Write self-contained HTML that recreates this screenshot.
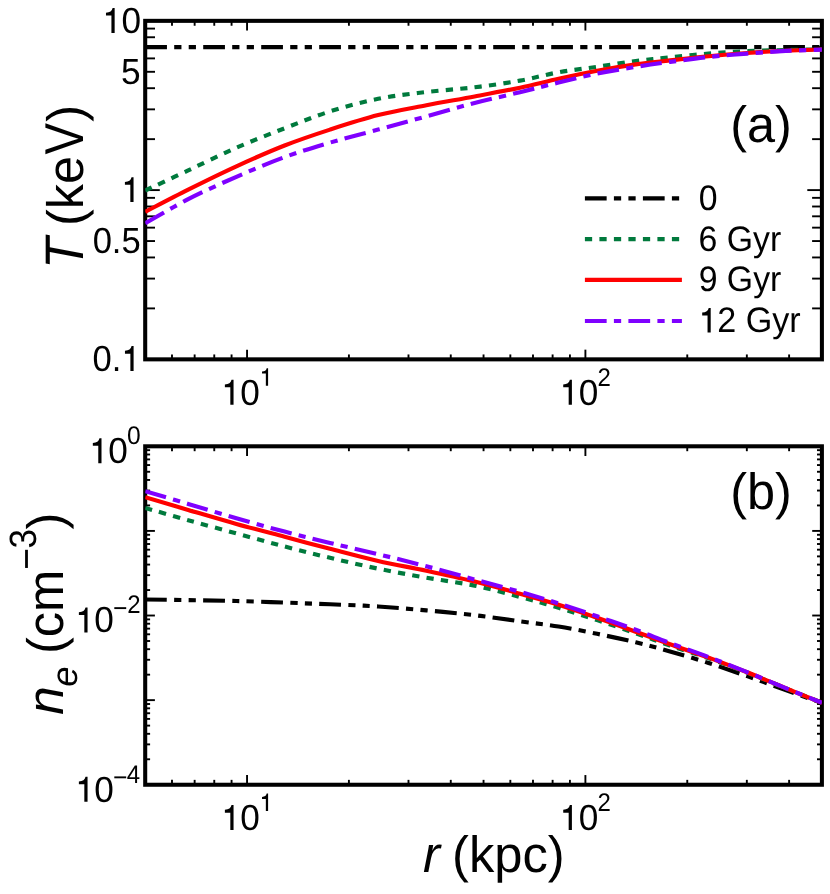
<!DOCTYPE html>
<html><head><meta charset="utf-8"><title>T and n_e profiles</title>
<style>html,body{margin:0;padding:0;background:#fff;}svg{display:block;}body{width:830px;height:894px;overflow:hidden;font-family:"Liberation Sans", sans-serif;}</style></head>
<body>
<svg width="830" height="894" viewBox="0 0 830 894" font-family='"Liberation Sans", sans-serif' fill="#000" text-rendering="geometricPrecision">
<rect x="0" y="0" width="830" height="894" fill="#fff"/>
<defs>
<clipPath id="ca"><rect x="145.2" y="20.85" width="676.70" height="338.50"/></clipPath>
<clipPath id="cb"><rect x="145.2" y="446.3" width="676.70" height="338.45"/></clipPath>
</defs>
<g id="ticks">
<line x1="171.99" y1="20.85" x2="171.99" y2="25.75" stroke="#000" stroke-width="1.9" />
<line x1="171.99" y1="359.35" x2="171.99" y2="354.45" stroke="#000" stroke-width="1.9" />
<line x1="194.64" y1="20.85" x2="194.64" y2="25.75" stroke="#000" stroke-width="1.9" />
<line x1="194.64" y1="359.35" x2="194.64" y2="354.45" stroke="#000" stroke-width="1.9" />
<line x1="214.26" y1="20.85" x2="214.26" y2="25.75" stroke="#000" stroke-width="1.9" />
<line x1="214.26" y1="359.35" x2="214.26" y2="354.45" stroke="#000" stroke-width="1.9" />
<line x1="231.57" y1="20.85" x2="231.57" y2="25.75" stroke="#000" stroke-width="1.9" />
<line x1="231.57" y1="359.35" x2="231.57" y2="354.45" stroke="#000" stroke-width="1.9" />
<line x1="247.05" y1="20.85" x2="247.05" y2="30.55" stroke="#000" stroke-width="1.9" />
<line x1="247.05" y1="359.35" x2="247.05" y2="349.65" stroke="#000" stroke-width="1.9" />
<line x1="348.91" y1="20.85" x2="348.91" y2="25.75" stroke="#000" stroke-width="1.9" />
<line x1="348.91" y1="359.35" x2="348.91" y2="354.45" stroke="#000" stroke-width="1.9" />
<line x1="408.49" y1="20.85" x2="408.49" y2="25.75" stroke="#000" stroke-width="1.9" />
<line x1="408.49" y1="359.35" x2="408.49" y2="354.45" stroke="#000" stroke-width="1.9" />
<line x1="450.76" y1="20.85" x2="450.76" y2="25.75" stroke="#000" stroke-width="1.9" />
<line x1="450.76" y1="359.35" x2="450.76" y2="354.45" stroke="#000" stroke-width="1.9" />
<line x1="483.55" y1="20.85" x2="483.55" y2="25.75" stroke="#000" stroke-width="1.9" />
<line x1="483.55" y1="359.35" x2="483.55" y2="354.45" stroke="#000" stroke-width="1.9" />
<line x1="510.34" y1="20.85" x2="510.34" y2="25.75" stroke="#000" stroke-width="1.9" />
<line x1="510.34" y1="359.35" x2="510.34" y2="354.45" stroke="#000" stroke-width="1.9" />
<line x1="532.99" y1="20.85" x2="532.99" y2="25.75" stroke="#000" stroke-width="1.9" />
<line x1="532.99" y1="359.35" x2="532.99" y2="354.45" stroke="#000" stroke-width="1.9" />
<line x1="552.61" y1="20.85" x2="552.61" y2="25.75" stroke="#000" stroke-width="1.9" />
<line x1="552.61" y1="359.35" x2="552.61" y2="354.45" stroke="#000" stroke-width="1.9" />
<line x1="569.92" y1="20.85" x2="569.92" y2="25.75" stroke="#000" stroke-width="1.9" />
<line x1="569.92" y1="359.35" x2="569.92" y2="354.45" stroke="#000" stroke-width="1.9" />
<line x1="585.40" y1="20.85" x2="585.40" y2="30.55" stroke="#000" stroke-width="1.9" />
<line x1="585.40" y1="359.35" x2="585.40" y2="349.65" stroke="#000" stroke-width="1.9" />
<line x1="687.26" y1="20.85" x2="687.26" y2="25.75" stroke="#000" stroke-width="1.9" />
<line x1="687.26" y1="359.35" x2="687.26" y2="354.45" stroke="#000" stroke-width="1.9" />
<line x1="746.84" y1="20.85" x2="746.84" y2="25.75" stroke="#000" stroke-width="1.9" />
<line x1="746.84" y1="359.35" x2="746.84" y2="354.45" stroke="#000" stroke-width="1.9" />
<line x1="789.11" y1="20.85" x2="789.11" y2="25.75" stroke="#000" stroke-width="1.9" />
<line x1="789.11" y1="359.35" x2="789.11" y2="354.45" stroke="#000" stroke-width="1.9" />
<line x1="171.99" y1="446.30" x2="171.99" y2="451.20" stroke="#000" stroke-width="1.9" />
<line x1="171.99" y1="784.75" x2="171.99" y2="779.85" stroke="#000" stroke-width="1.9" />
<line x1="194.64" y1="446.30" x2="194.64" y2="451.20" stroke="#000" stroke-width="1.9" />
<line x1="194.64" y1="784.75" x2="194.64" y2="779.85" stroke="#000" stroke-width="1.9" />
<line x1="214.26" y1="446.30" x2="214.26" y2="451.20" stroke="#000" stroke-width="1.9" />
<line x1="214.26" y1="784.75" x2="214.26" y2="779.85" stroke="#000" stroke-width="1.9" />
<line x1="231.57" y1="446.30" x2="231.57" y2="451.20" stroke="#000" stroke-width="1.9" />
<line x1="231.57" y1="784.75" x2="231.57" y2="779.85" stroke="#000" stroke-width="1.9" />
<line x1="247.05" y1="446.30" x2="247.05" y2="456.00" stroke="#000" stroke-width="1.9" />
<line x1="247.05" y1="784.75" x2="247.05" y2="775.05" stroke="#000" stroke-width="1.9" />
<line x1="348.91" y1="446.30" x2="348.91" y2="451.20" stroke="#000" stroke-width="1.9" />
<line x1="348.91" y1="784.75" x2="348.91" y2="779.85" stroke="#000" stroke-width="1.9" />
<line x1="408.49" y1="446.30" x2="408.49" y2="451.20" stroke="#000" stroke-width="1.9" />
<line x1="408.49" y1="784.75" x2="408.49" y2="779.85" stroke="#000" stroke-width="1.9" />
<line x1="450.76" y1="446.30" x2="450.76" y2="451.20" stroke="#000" stroke-width="1.9" />
<line x1="450.76" y1="784.75" x2="450.76" y2="779.85" stroke="#000" stroke-width="1.9" />
<line x1="483.55" y1="446.30" x2="483.55" y2="451.20" stroke="#000" stroke-width="1.9" />
<line x1="483.55" y1="784.75" x2="483.55" y2="779.85" stroke="#000" stroke-width="1.9" />
<line x1="510.34" y1="446.30" x2="510.34" y2="451.20" stroke="#000" stroke-width="1.9" />
<line x1="510.34" y1="784.75" x2="510.34" y2="779.85" stroke="#000" stroke-width="1.9" />
<line x1="532.99" y1="446.30" x2="532.99" y2="451.20" stroke="#000" stroke-width="1.9" />
<line x1="532.99" y1="784.75" x2="532.99" y2="779.85" stroke="#000" stroke-width="1.9" />
<line x1="552.61" y1="446.30" x2="552.61" y2="451.20" stroke="#000" stroke-width="1.9" />
<line x1="552.61" y1="784.75" x2="552.61" y2="779.85" stroke="#000" stroke-width="1.9" />
<line x1="569.92" y1="446.30" x2="569.92" y2="451.20" stroke="#000" stroke-width="1.9" />
<line x1="569.92" y1="784.75" x2="569.92" y2="779.85" stroke="#000" stroke-width="1.9" />
<line x1="585.40" y1="446.30" x2="585.40" y2="456.00" stroke="#000" stroke-width="1.9" />
<line x1="585.40" y1="784.75" x2="585.40" y2="775.05" stroke="#000" stroke-width="1.9" />
<line x1="687.26" y1="446.30" x2="687.26" y2="451.20" stroke="#000" stroke-width="1.9" />
<line x1="687.26" y1="784.75" x2="687.26" y2="779.85" stroke="#000" stroke-width="1.9" />
<line x1="746.84" y1="446.30" x2="746.84" y2="451.20" stroke="#000" stroke-width="1.9" />
<line x1="746.84" y1="784.75" x2="746.84" y2="779.85" stroke="#000" stroke-width="1.9" />
<line x1="789.11" y1="446.30" x2="789.11" y2="451.20" stroke="#000" stroke-width="1.9" />
<line x1="789.11" y1="784.75" x2="789.11" y2="779.85" stroke="#000" stroke-width="1.9" />
<line x1="145.20" y1="308.40" x2="155.00" y2="308.40" stroke="#000" stroke-width="1.9" />
<line x1="821.90" y1="308.40" x2="812.10" y2="308.40" stroke="#000" stroke-width="1.9" />
<line x1="145.20" y1="278.60" x2="155.00" y2="278.60" stroke="#000" stroke-width="1.9" />
<line x1="821.90" y1="278.60" x2="812.10" y2="278.60" stroke="#000" stroke-width="1.9" />
<line x1="145.20" y1="257.45" x2="155.00" y2="257.45" stroke="#000" stroke-width="1.9" />
<line x1="821.90" y1="257.45" x2="812.10" y2="257.45" stroke="#000" stroke-width="1.9" />
<line x1="145.20" y1="241.05" x2="155.00" y2="241.05" stroke="#000" stroke-width="1.9" />
<line x1="821.90" y1="241.05" x2="812.10" y2="241.05" stroke="#000" stroke-width="1.9" />
<line x1="145.20" y1="227.65" x2="155.00" y2="227.65" stroke="#000" stroke-width="1.9" />
<line x1="821.90" y1="227.65" x2="812.10" y2="227.65" stroke="#000" stroke-width="1.9" />
<line x1="145.20" y1="216.32" x2="155.00" y2="216.32" stroke="#000" stroke-width="1.9" />
<line x1="821.90" y1="216.32" x2="812.10" y2="216.32" stroke="#000" stroke-width="1.9" />
<line x1="145.20" y1="206.50" x2="155.00" y2="206.50" stroke="#000" stroke-width="1.9" />
<line x1="821.90" y1="206.50" x2="812.10" y2="206.50" stroke="#000" stroke-width="1.9" />
<line x1="145.20" y1="197.84" x2="155.00" y2="197.84" stroke="#000" stroke-width="1.9" />
<line x1="821.90" y1="197.84" x2="812.10" y2="197.84" stroke="#000" stroke-width="1.9" />
<line x1="145.20" y1="190.10" x2="159.80" y2="190.10" stroke="#000" stroke-width="1.9" />
<line x1="821.90" y1="190.10" x2="807.30" y2="190.10" stroke="#000" stroke-width="1.9" />
<line x1="145.20" y1="139.15" x2="155.00" y2="139.15" stroke="#000" stroke-width="1.9" />
<line x1="821.90" y1="139.15" x2="812.10" y2="139.15" stroke="#000" stroke-width="1.9" />
<line x1="145.20" y1="109.35" x2="155.00" y2="109.35" stroke="#000" stroke-width="1.9" />
<line x1="821.90" y1="109.35" x2="812.10" y2="109.35" stroke="#000" stroke-width="1.9" />
<line x1="145.20" y1="88.20" x2="155.00" y2="88.20" stroke="#000" stroke-width="1.9" />
<line x1="821.90" y1="88.20" x2="812.10" y2="88.20" stroke="#000" stroke-width="1.9" />
<line x1="145.20" y1="71.80" x2="155.00" y2="71.80" stroke="#000" stroke-width="1.9" />
<line x1="821.90" y1="71.80" x2="812.10" y2="71.80" stroke="#000" stroke-width="1.9" />
<line x1="145.20" y1="58.40" x2="155.00" y2="58.40" stroke="#000" stroke-width="1.9" />
<line x1="821.90" y1="58.40" x2="812.10" y2="58.40" stroke="#000" stroke-width="1.9" />
<line x1="145.20" y1="47.07" x2="155.00" y2="47.07" stroke="#000" stroke-width="1.9" />
<line x1="821.90" y1="47.07" x2="812.10" y2="47.07" stroke="#000" stroke-width="1.9" />
<line x1="145.20" y1="37.25" x2="155.00" y2="37.25" stroke="#000" stroke-width="1.9" />
<line x1="821.90" y1="37.25" x2="812.10" y2="37.25" stroke="#000" stroke-width="1.9" />
<line x1="145.20" y1="28.59" x2="155.00" y2="28.59" stroke="#000" stroke-width="1.9" />
<line x1="821.90" y1="28.59" x2="812.10" y2="28.59" stroke="#000" stroke-width="1.9" />
<line x1="145.20" y1="759.28" x2="150.10" y2="759.28" stroke="#000" stroke-width="1.9" />
<line x1="821.90" y1="759.28" x2="817.00" y2="759.28" stroke="#000" stroke-width="1.9" />
<line x1="145.20" y1="744.38" x2="150.10" y2="744.38" stroke="#000" stroke-width="1.9" />
<line x1="821.90" y1="744.38" x2="817.00" y2="744.38" stroke="#000" stroke-width="1.9" />
<line x1="145.20" y1="733.81" x2="150.10" y2="733.81" stroke="#000" stroke-width="1.9" />
<line x1="821.90" y1="733.81" x2="817.00" y2="733.81" stroke="#000" stroke-width="1.9" />
<line x1="145.20" y1="725.61" x2="150.10" y2="725.61" stroke="#000" stroke-width="1.9" />
<line x1="821.90" y1="725.61" x2="817.00" y2="725.61" stroke="#000" stroke-width="1.9" />
<line x1="145.20" y1="718.91" x2="150.10" y2="718.91" stroke="#000" stroke-width="1.9" />
<line x1="821.90" y1="718.91" x2="817.00" y2="718.91" stroke="#000" stroke-width="1.9" />
<line x1="145.20" y1="713.24" x2="150.10" y2="713.24" stroke="#000" stroke-width="1.9" />
<line x1="821.90" y1="713.24" x2="817.00" y2="713.24" stroke="#000" stroke-width="1.9" />
<line x1="145.20" y1="708.34" x2="150.10" y2="708.34" stroke="#000" stroke-width="1.9" />
<line x1="821.90" y1="708.34" x2="817.00" y2="708.34" stroke="#000" stroke-width="1.9" />
<line x1="145.20" y1="704.01" x2="150.10" y2="704.01" stroke="#000" stroke-width="1.9" />
<line x1="821.90" y1="704.01" x2="817.00" y2="704.01" stroke="#000" stroke-width="1.9" />
<line x1="145.20" y1="700.14" x2="154.90" y2="700.14" stroke="#000" stroke-width="1.9" />
<line x1="821.90" y1="700.14" x2="812.20" y2="700.14" stroke="#000" stroke-width="1.9" />
<line x1="145.20" y1="674.67" x2="150.10" y2="674.67" stroke="#000" stroke-width="1.9" />
<line x1="821.90" y1="674.67" x2="817.00" y2="674.67" stroke="#000" stroke-width="1.9" />
<line x1="145.20" y1="659.77" x2="150.10" y2="659.77" stroke="#000" stroke-width="1.9" />
<line x1="821.90" y1="659.77" x2="817.00" y2="659.77" stroke="#000" stroke-width="1.9" />
<line x1="145.20" y1="649.20" x2="150.10" y2="649.20" stroke="#000" stroke-width="1.9" />
<line x1="821.90" y1="649.20" x2="817.00" y2="649.20" stroke="#000" stroke-width="1.9" />
<line x1="145.20" y1="641.00" x2="150.10" y2="641.00" stroke="#000" stroke-width="1.9" />
<line x1="821.90" y1="641.00" x2="817.00" y2="641.00" stroke="#000" stroke-width="1.9" />
<line x1="145.20" y1="634.30" x2="150.10" y2="634.30" stroke="#000" stroke-width="1.9" />
<line x1="821.90" y1="634.30" x2="817.00" y2="634.30" stroke="#000" stroke-width="1.9" />
<line x1="145.20" y1="628.63" x2="150.10" y2="628.63" stroke="#000" stroke-width="1.9" />
<line x1="821.90" y1="628.63" x2="817.00" y2="628.63" stroke="#000" stroke-width="1.9" />
<line x1="145.20" y1="623.72" x2="150.10" y2="623.72" stroke="#000" stroke-width="1.9" />
<line x1="821.90" y1="623.72" x2="817.00" y2="623.72" stroke="#000" stroke-width="1.9" />
<line x1="145.20" y1="619.40" x2="150.10" y2="619.40" stroke="#000" stroke-width="1.9" />
<line x1="821.90" y1="619.40" x2="817.00" y2="619.40" stroke="#000" stroke-width="1.9" />
<line x1="145.20" y1="615.52" x2="154.90" y2="615.52" stroke="#000" stroke-width="1.9" />
<line x1="821.90" y1="615.52" x2="812.20" y2="615.52" stroke="#000" stroke-width="1.9" />
<line x1="145.20" y1="590.05" x2="150.10" y2="590.05" stroke="#000" stroke-width="1.9" />
<line x1="821.90" y1="590.05" x2="817.00" y2="590.05" stroke="#000" stroke-width="1.9" />
<line x1="145.20" y1="575.15" x2="150.10" y2="575.15" stroke="#000" stroke-width="1.9" />
<line x1="821.90" y1="575.15" x2="817.00" y2="575.15" stroke="#000" stroke-width="1.9" />
<line x1="145.20" y1="564.58" x2="150.10" y2="564.58" stroke="#000" stroke-width="1.9" />
<line x1="821.90" y1="564.58" x2="817.00" y2="564.58" stroke="#000" stroke-width="1.9" />
<line x1="145.20" y1="556.38" x2="150.10" y2="556.38" stroke="#000" stroke-width="1.9" />
<line x1="821.90" y1="556.38" x2="817.00" y2="556.38" stroke="#000" stroke-width="1.9" />
<line x1="145.20" y1="549.68" x2="150.10" y2="549.68" stroke="#000" stroke-width="1.9" />
<line x1="821.90" y1="549.68" x2="817.00" y2="549.68" stroke="#000" stroke-width="1.9" />
<line x1="145.20" y1="544.02" x2="150.10" y2="544.02" stroke="#000" stroke-width="1.9" />
<line x1="821.90" y1="544.02" x2="817.00" y2="544.02" stroke="#000" stroke-width="1.9" />
<line x1="145.20" y1="539.11" x2="150.10" y2="539.11" stroke="#000" stroke-width="1.9" />
<line x1="821.90" y1="539.11" x2="817.00" y2="539.11" stroke="#000" stroke-width="1.9" />
<line x1="145.20" y1="534.78" x2="150.10" y2="534.78" stroke="#000" stroke-width="1.9" />
<line x1="821.90" y1="534.78" x2="817.00" y2="534.78" stroke="#000" stroke-width="1.9" />
<line x1="145.20" y1="530.91" x2="154.90" y2="530.91" stroke="#000" stroke-width="1.9" />
<line x1="821.90" y1="530.91" x2="812.20" y2="530.91" stroke="#000" stroke-width="1.9" />
<line x1="145.20" y1="505.44" x2="150.10" y2="505.44" stroke="#000" stroke-width="1.9" />
<line x1="821.90" y1="505.44" x2="817.00" y2="505.44" stroke="#000" stroke-width="1.9" />
<line x1="145.20" y1="490.54" x2="150.10" y2="490.54" stroke="#000" stroke-width="1.9" />
<line x1="821.90" y1="490.54" x2="817.00" y2="490.54" stroke="#000" stroke-width="1.9" />
<line x1="145.20" y1="479.97" x2="150.10" y2="479.97" stroke="#000" stroke-width="1.9" />
<line x1="821.90" y1="479.97" x2="817.00" y2="479.97" stroke="#000" stroke-width="1.9" />
<line x1="145.20" y1="471.77" x2="150.10" y2="471.77" stroke="#000" stroke-width="1.9" />
<line x1="821.90" y1="471.77" x2="817.00" y2="471.77" stroke="#000" stroke-width="1.9" />
<line x1="145.20" y1="465.07" x2="150.10" y2="465.07" stroke="#000" stroke-width="1.9" />
<line x1="821.90" y1="465.07" x2="817.00" y2="465.07" stroke="#000" stroke-width="1.9" />
<line x1="145.20" y1="459.41" x2="150.10" y2="459.41" stroke="#000" stroke-width="1.9" />
<line x1="821.90" y1="459.41" x2="817.00" y2="459.41" stroke="#000" stroke-width="1.9" />
<line x1="145.20" y1="454.50" x2="150.10" y2="454.50" stroke="#000" stroke-width="1.9" />
<line x1="821.90" y1="454.50" x2="817.00" y2="454.50" stroke="#000" stroke-width="1.9" />
<line x1="145.20" y1="450.17" x2="150.10" y2="450.17" stroke="#000" stroke-width="1.9" />
<line x1="821.90" y1="450.17" x2="817.00" y2="450.17" stroke="#000" stroke-width="1.9" />
</g>
<rect x="145.2" y="20.85" width="676.70" height="338.50" fill="none" stroke="#000" stroke-width="4.05"/>
<rect x="145.2" y="446.3" width="676.70" height="338.45" fill="none" stroke="#000" stroke-width="4.05"/>
<g clip-path="url(#ca)">
<path d="M145.2,47.07 L821.9,47.07" fill="none" stroke="#000000" stroke-width="4.15" stroke-dasharray="21.75,7.25,7.25,7.25,7.25,7.25"/>
<path d="M145.20,190.50 C152.37,187.15 173.00,177.53 188.20,170.40 C203.40,163.27 220.33,154.72 236.40,147.70 C252.47,140.68 269.00,134.35 284.60,128.30 C300.20,122.25 314.40,116.32 330.00,111.40 C345.60,106.48 362.13,102.03 378.20,98.80 C394.27,95.57 410.33,93.92 426.40,92.00 C442.47,90.08 459.00,89.20 474.60,87.30 C490.20,85.40 506.00,83.10 520.00,80.60 C534.00,78.10 545.75,74.60 558.60,72.30 C571.45,70.00 584.25,68.68 597.10,66.80 C609.95,64.92 623.55,62.58 635.70,61.00 C647.85,59.42 657.85,58.53 670.00,57.30 C682.15,56.07 695.75,54.62 708.60,53.60 C721.45,52.58 734.25,51.80 747.10,51.20 C759.95,50.60 773.22,50.30 785.70,50.00 C798.18,49.70 815.95,49.50 822.00,49.40" fill="none" stroke="#007a3d" stroke-width="4.15" stroke-dasharray="7.25,7.25" stroke-dashoffset="0"/>
<path d="M145.20,211.80 C152.37,208.10 173.00,197.18 188.20,189.60 C203.40,182.02 220.33,173.65 236.40,166.30 C252.47,158.95 269.00,151.62 284.60,145.50 C300.20,139.38 314.40,134.67 330.00,129.60 C345.60,124.53 362.13,119.15 378.20,115.10 C394.27,111.05 410.33,108.40 426.40,105.30 C442.47,102.20 459.00,99.43 474.60,96.50 C490.20,93.57 506.00,90.65 520.00,87.70 C534.00,84.75 545.75,81.62 558.60,78.80 C571.45,75.98 584.25,73.20 597.10,70.80 C609.95,68.40 623.55,66.13 635.70,64.40 C647.85,62.67 657.85,61.77 670.00,60.40 C682.15,59.03 695.75,57.43 708.60,56.20 C721.45,54.97 734.25,53.92 747.10,53.00 C759.95,52.08 773.22,51.28 785.70,50.70 C798.18,50.12 815.95,49.70 822.00,49.50" fill="none" stroke="#ff0000" stroke-width="4.15"/>
<path d="M145.20,223.30 C152.37,219.28 173.00,206.95 188.20,199.20 C203.40,191.45 220.33,183.82 236.40,176.80 C252.47,169.78 269.00,162.80 284.60,157.10 C300.20,151.40 314.40,147.18 330.00,142.60 C345.60,138.02 362.13,133.97 378.20,129.60 C394.27,125.23 410.33,120.83 426.40,116.40 C442.47,111.97 459.00,107.03 474.60,103.00 C490.20,98.97 506.00,95.62 520.00,92.20 C534.00,88.78 545.75,85.60 558.60,82.50 C571.45,79.40 584.25,76.20 597.10,73.60 C609.95,71.00 623.55,68.85 635.70,66.90 C647.85,64.95 657.85,63.55 670.00,61.90 C682.15,60.25 695.75,58.38 708.60,57.00 C721.45,55.62 734.25,54.62 747.10,53.60 C759.95,52.58 773.22,51.57 785.70,50.90 C798.18,50.23 815.95,49.82 822.00,49.60" fill="none" stroke="#7f00ff" stroke-width="4.15" stroke-dasharray="21.75,7.25,7.25,7.25" stroke-dashoffset="0"/>
</g>
<g clip-path="url(#cb)">
<path d="M145.20,599.50 C160.40,599.75 205.60,600.20 236.40,601.00 C267.20,601.80 306.37,603.38 330.00,604.30 C353.63,605.22 362.13,605.48 378.20,606.50 C394.27,607.52 410.33,608.95 426.40,610.40 C442.47,611.85 459.00,613.38 474.60,615.20 C490.20,617.02 506.00,619.42 520.00,621.30 C534.00,623.18 545.75,624.42 558.60,626.50 C571.45,628.58 584.25,631.17 597.10,633.80 C609.95,636.43 623.55,639.37 635.70,642.30 C647.85,645.23 657.85,647.95 670.00,651.40 C682.15,654.85 695.75,658.88 708.60,663.00 C721.45,667.12 734.25,671.60 747.10,676.10 C759.95,680.60 773.22,685.52 785.70,690.00 C798.18,694.48 815.95,700.83 822.00,703.00" fill="none" stroke="#000000" stroke-width="4.15" stroke-dasharray="21.75,7.25,7.25,7.25,7.25,7.25" stroke-dashoffset="0"/>
<path d="M145.20,507.90 C152.37,509.95 173.00,515.95 188.20,520.20 C203.40,524.45 220.33,529.02 236.40,533.40 C252.47,537.78 269.00,542.43 284.60,546.50 C300.20,550.57 314.40,554.10 330.00,557.80 C345.60,561.50 362.13,565.38 378.20,568.70 C394.27,572.02 410.33,574.88 426.40,577.70 C442.47,580.52 459.00,582.38 474.60,585.60 C490.20,588.82 506.00,593.30 520.00,597.00 C534.00,600.70 545.75,603.95 558.60,607.80 C571.45,611.65 584.25,615.85 597.10,620.10 C609.95,624.35 623.55,629.07 635.70,633.30 C647.85,637.53 657.85,641.33 670.00,645.50 C682.15,649.67 695.75,653.78 708.60,658.30 C721.45,662.82 734.25,667.60 747.10,672.60 C759.95,677.60 773.22,683.27 785.70,688.30 C798.18,693.33 815.95,700.38 822.00,702.80" fill="none" stroke="#007a3d" stroke-width="4.15" stroke-dasharray="7.25,7.25" stroke-dashoffset="0"/>
<path d="M145.20,497.20 C152.37,499.32 173.00,505.45 188.20,509.90 C203.40,514.35 220.33,519.42 236.40,523.90 C252.47,528.38 269.00,532.65 284.60,536.80 C300.20,540.95 314.40,544.77 330.00,548.80 C345.60,552.83 362.13,557.33 378.20,561.00 C394.27,564.67 410.33,567.37 426.40,570.80 C442.47,574.23 459.00,577.78 474.60,581.60 C490.20,585.42 506.00,589.85 520.00,593.70 C534.00,597.55 545.75,600.68 558.60,604.70 C571.45,608.72 584.25,613.30 597.10,617.80 C609.95,622.30 623.55,627.30 635.70,631.70 C647.85,636.10 657.85,639.88 670.00,644.20 C682.15,648.52 695.75,652.92 708.60,657.60 C721.45,662.28 734.25,667.20 747.10,672.30 C759.95,677.40 773.22,683.12 785.70,688.20 C798.18,693.28 815.95,700.37 822.00,702.80" fill="none" stroke="#ff0000" stroke-width="4.15"/>
<path d="M145.20,491.20 C152.37,493.32 173.00,499.38 188.20,503.90 C203.40,508.42 220.33,513.68 236.40,518.30 C252.47,522.92 269.00,527.50 284.60,531.60 C300.20,535.70 314.40,539.13 330.00,542.90 C345.60,546.67 362.13,550.30 378.20,554.20 C394.27,558.10 410.33,562.08 426.40,566.30 C442.47,570.52 459.00,575.25 474.60,579.50 C490.20,583.75 506.00,587.82 520.00,591.80 C534.00,595.78 545.75,599.32 558.60,603.40 C571.45,607.48 584.25,611.90 597.10,616.30 C609.95,620.70 623.55,625.35 635.70,629.80 C647.85,634.25 657.85,638.47 670.00,643.00 C682.15,647.53 695.75,652.15 708.60,657.00 C721.45,661.85 734.25,666.92 747.10,672.10 C759.95,677.28 773.22,682.98 785.70,688.10 C798.18,693.22 815.95,700.35 822.00,702.80" fill="none" stroke="#7f00ff" stroke-width="4.15" stroke-dasharray="21.75,7.25,7.25,7.25" stroke-dashoffset="0"/>
</g>
<g id="txt" opacity="0.999">
<text transform="translate(121.38,32.95) scale(0.9720,1.0000)" font-size="36.2">0</text>
<path transform="translate(114.65,32.95) scale(25.000)" d="M0,0 L0,-1 L-0.081,-1 C-0.109,-0.88 -0.189,-0.82 -0.347,-0.81 L-0.347,-0.694 L-0.129,-0.694 L-0.129,0 Z" fill="#000"/>
<text transform="translate(121.12,83.90) scale(0.9750,1.0000)" font-size="36.2">5</text>
<path transform="translate(133.55,202.10) scale(24.900)" d="M0,0 L0,-1 L-0.081,-1 C-0.109,-0.88 -0.189,-0.82 -0.347,-0.81 L-0.347,-0.694 L-0.129,-0.694 L-0.129,0 Z" fill="#000"/>
<text transform="translate(92.63,253.25) scale(0.9550,1.0000)" font-size="36.2">0.5</text>
<text transform="translate(92.62,371.25) scale(0.9550,1.0000)" font-size="36.2">0.</text>
<path transform="translate(133.60,370.95) scale(24.900)" d="M0,0 L0,-1 L-0.081,-1 C-0.109,-0.88 -0.189,-0.82 -0.347,-0.81 L-0.347,-0.694 L-0.129,-0.694 L-0.129,0 Z" fill="#000"/>
<text transform="translate(240.28,404.70) scale(0.9720,1.0000)" font-size="36.2">0</text>
<path transform="translate(233.55,404.70) scale(25.000)" d="M0,0 L0,-1 L-0.081,-1 C-0.109,-0.88 -0.189,-0.82 -0.347,-0.81 L-0.347,-0.694 L-0.129,-0.694 L-0.129,0 Z" fill="#000"/>
<path transform="translate(268.10,385.70) scale(17.500)" d="M0,0 L0,-1 L-0.081,-1 C-0.109,-0.88 -0.189,-0.82 -0.347,-0.81 L-0.347,-0.694 L-0.129,-0.694 L-0.129,0 Z" fill="#000"/>
<text transform="translate(578.63,404.70) scale(0.9720,1.0000)" font-size="36.2">0</text>
<path transform="translate(571.90,404.70) scale(25.000)" d="M0,0 L0,-1 L-0.081,-1 C-0.109,-0.88 -0.189,-0.82 -0.347,-0.81 L-0.347,-0.694 L-0.129,-0.694 L-0.129,0 Z" fill="#000"/>
<text transform="translate(597.40,385.70) scale(0.9450,1.0000)" font-size="25.4">2</text>
<text transform="translate(240.28,830.10) scale(0.9720,1.0000)" font-size="36.2">0</text>
<path transform="translate(233.55,830.10) scale(25.000)" d="M0,0 L0,-1 L-0.081,-1 C-0.109,-0.88 -0.189,-0.82 -0.347,-0.81 L-0.347,-0.694 L-0.129,-0.694 L-0.129,0 Z" fill="#000"/>
<path transform="translate(268.10,811.10) scale(17.500)" d="M0,0 L0,-1 L-0.081,-1 C-0.109,-0.88 -0.189,-0.82 -0.347,-0.81 L-0.347,-0.694 L-0.129,-0.694 L-0.129,0 Z" fill="#000"/>
<text transform="translate(578.63,830.10) scale(0.9720,1.0000)" font-size="36.2">0</text>
<path transform="translate(571.90,830.10) scale(25.000)" d="M0,0 L0,-1 L-0.081,-1 C-0.109,-0.88 -0.189,-0.82 -0.347,-0.81 L-0.347,-0.694 L-0.129,-0.694 L-0.129,0 Z" fill="#000"/>
<text transform="translate(597.40,811.10) scale(0.9450,1.0000)" font-size="25.4">2</text>
<text transform="translate(108.23,463.20) scale(0.9720,1.0000)" font-size="36.2">0</text>
<path transform="translate(101.50,463.20) scale(25.000)" d="M0,0 L0,-1 L-0.081,-1 C-0.109,-0.88 -0.189,-0.82 -0.347,-0.81 L-0.347,-0.694 L-0.129,-0.694 L-0.129,0 Z" fill="#000"/>
<text transform="translate(126.91,444.20) scale(0.9700,1.0000)" font-size="25.4">0</text>
<text transform="translate(94.28,632.42) scale(0.9720,1.0000)" font-size="36.2">0</text>
<path transform="translate(87.55,632.42) scale(25.000)" d="M0,0 L0,-1 L-0.081,-1 C-0.109,-0.88 -0.189,-0.82 -0.347,-0.81 L-0.347,-0.694 L-0.129,-0.694 L-0.129,0 Z" fill="#000"/>
<rect x="114.30" y="607.17" width="11.90" height="1.90" fill="#000"/>
<text transform="translate(127.33,613.42) scale(0.9450,1.0000)" font-size="25.4">2</text>
<text transform="translate(94.28,801.65) scale(0.9720,1.0000)" font-size="36.2">0</text>
<path transform="translate(87.55,801.65) scale(25.000)" d="M0,0 L0,-1 L-0.081,-1 C-0.109,-0.88 -0.189,-0.82 -0.347,-0.81 L-0.347,-0.694 L-0.129,-0.694 L-0.129,0 Z" fill="#000"/>
<rect x="114.30" y="776.40" width="11.90" height="1.90" fill="#000"/>
<text transform="translate(126.85,782.65) scale(0.9450,1.0000)" font-size="25.4">4</text>
<text transform="translate(82.60,268.81) rotate(-90) scale(1.0000,1.0600)" font-size="51.2" font-style="italic">T</text>
<text transform="translate(82.60,226.03) rotate(-90) scale(0.9850,1.0000)" font-size="51.2">(ke</text>
<text transform="translate(82.70,154.44) rotate(-90) scale(0.9250,1.0680)" font-size="51.2">V</text>
<text transform="translate(82.60,121.82) rotate(-90) scale(1.0000,1.0000)" font-size="51.2">)</text>
<text transform="translate(63.20,714.72) rotate(-90) scale(1.0000,1.0000)" font-size="51.2" font-style="italic">n</text>
<text transform="translate(76.60,686.78) rotate(-90) scale(1.0000,1.0000)" font-size="36.5" font-style="italic">e</text>
<text transform="translate(63.20,654.09) rotate(-90) scale(0.9900,1.0000)" font-size="51.2">(cm</text>
<rect x="25.10" y="549.8" width="2.8" height="18.15" fill="#000"/>
<text transform="translate(35.90,548.50) rotate(-90) scale(0.9200,1.0000)" font-size="38.0">3</text>
<text transform="translate(63.20,529.52) rotate(-90) scale(1.0000,1.0000)" font-size="51.2">)</text>
<text transform="translate(422.93,871.65) scale(1.0000,1.0000)" font-size="51.2" font-style="italic">r</text>
<text transform="translate(452.06,871.65) scale(0.9900,1.0000)" font-size="51.2">(kpc)</text>
<text transform="translate(730.27,141.90) scale(0.9850,1.0000)" font-size="51.2">(a)</text>
<text transform="translate(730.27,508.90) scale(0.9850,1.0000)" font-size="51.2">(b)</text>
<path d="M584.9,198.3 L681.9,198.3" fill="none" stroke="#000000" stroke-width="4.15" stroke-dasharray="21.75,7.25,7.25,7.25,7.25,7.25"/>
<text transform="translate(698.85,209.70) scale(0.9550,1.0000)" font-size="35.4">0</text>
<path d="M584.9,239.1 L681.9,239.1" fill="none" stroke="#007a3d" stroke-width="4.15" stroke-dasharray="7.25,7.25"/>
<text transform="translate(698.51,250.50) scale(0.9550,1.0000)" font-size="35.4">6 Gyr</text>
<path d="M584.9,279.9 L681.9,279.9" fill="none" stroke="#ff0000" stroke-width="4.15"/>
<text transform="translate(698.68,291.30) scale(0.9550,1.0000)" font-size="35.4">9 Gyr</text>
<path d="M584.9,321.0 L681.9,321.0" fill="none" stroke="#7f00ff" stroke-width="4.15" stroke-dasharray="21.75,7.25,7.25,7.25"/>
<path transform="translate(710.70,332.40) scale(24.500)" d="M0,0 L0,-1 L-0.081,-1 C-0.109,-0.88 -0.189,-0.82 -0.347,-0.81 L-0.347,-0.694 L-0.129,-0.694 L-0.129,0 Z" fill="#000"/>
<text transform="translate(717.19,332.40) scale(0.9650,1.0000)" font-size="35.4">2 Gyr</text>
</g>
</svg>
</body></html>
